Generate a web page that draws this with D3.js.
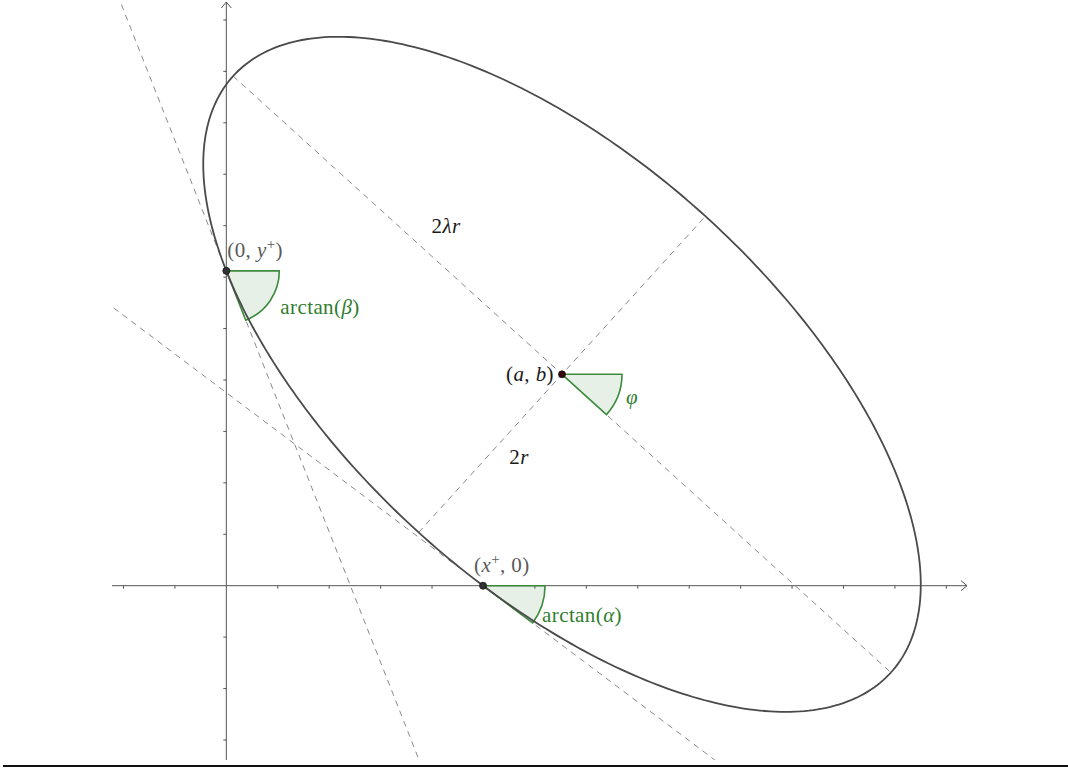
<!DOCTYPE html>
<html>
<head>
<meta charset="utf-8">
<script src="https://cdn.jsdelivr.net/npm/d3@7/dist/d3.min.js"></script>
<style>
  body { margin: 0; background: #fff; }
  text { font-family: "Liberation Serif", "DejaVu Serif", serif; }
</style>
</head>
<body>
<div id="chart"></div>
<script>
// View window in math units
const xDomain = [-2.223, 14.46];
const yDomain = [-3.389, 11.388];
const xTicks = [-2, -1, 1, 2, 3, 4, 5, 6, 7, 8, 9, 10, 11, 12, 13, 14];
const yTicks = [-3, -2, -1, 1, 2, 3, 4, 5, 6, 7, 8, 9, 10, 11];

// Ellipse: centre (a, b), semi-minor r, ratio lambda, tilt phi (degrees, clockwise)
const centre = [6.527, 4.11];
const r = 4.15;
const lambda = 2.08;
const phiDeg = 42.2;

(function () {
    const width = 1068;
    const height = 770;
    const view = { left: 112, right: 970, top: 0, bottom: 760 };

    const x = d3.scaleLinear().domain(xDomain).range([view.left, view.right]);
    const y = d3.scaleLinear().domain(yDomain).range([view.bottom, view.top]);

    const green = "#3d8b3d";
    const greenText = "#2f7d2f";

    const svg = d3.select("#chart")
        .append("svg")
        .attr("width", width)
        .attr("height", height)
        .attr("viewBox", [0, 0, width, height]);

    svg.append("defs").append("clipPath")
        .attr("id", "view")
        .append("rect")
        .attr("x", view.left)
        .attr("y", view.top)
        .attr("width", view.right - view.left)
        .attr("height", view.bottom - view.top);

    const g = svg.append("g").attr("clip-path", "url(#view)");

    // geometry of the ellipse
    const phi = phiDeg * Math.PI / 180;
    const A = lambda * r, B = r;
    const u = [Math.cos(phi), -Math.sin(phi)];   // major axis (down-right)
    const v = [Math.sin(phi), Math.cos(phi)];    // minor axis (up-right)
    const dot = (p, q) => p[0] * q[0] + p[1] * q[1];
    const at = (p, d, s) => [p[0] + d[0] * s, p[1] + d[1] * s];

    // smaller root of line p0 + s*d meeting the ellipse
    function meet(p0, d) {
        const w = [p0[0] - centre[0], p0[1] - centre[1]];
        const a1 = dot(d, u) / A, b1 = dot(w, u) / A;
        const a2 = dot(d, v) / B, b2 = dot(w, v) / B;
        const qa = a1 * a1 + a2 * a2;
        const qb = 2 * (a1 * b1 + a2 * b2);
        const qc = b1 * b1 + b2 * b2 - 1;
        const s = (-qb - Math.sqrt(qb * qb - 4 * qa * qc)) / (2 * qa);
        return at(p0, d, s);
    }

    // unit tangent (pointing right) at a point of the ellipse
    function tangent(p) {
        const w = [p[0] - centre[0], p[1] - centre[1]];
        const gu = dot(w, u) / (A * A), gv = dot(w, v) / (B * B);
        const gr = [gu * u[0] + gv * v[0], gu * u[1] + gv * v[1]];
        let t = [gr[1], -gr[0]];
        if (t[0] < 0) t = [-t[0], -t[1]];
        const n = Math.hypot(t[0], t[1]);
        return [t[0] / n, t[1] / n];
    }

    const xPlus = meet([0, 0], [1, 0]);
    const yPlus = meet([0, 0], [0, 1]);
    const tX = tangent(xPlus);
    const tY = tangent(yPlus);

    const px = p => [x(p[0]), y(p[1])];

    // axes
    const axisColor = "#555";
    const ox = x(0), oy = y(0);
    g.append("line")
        .attr("x1", view.left).attr("x2", 967)
        .attr("y1", oy).attr("y2", oy)
        .style("stroke", axisColor).style("stroke-width", 1);
    g.append("path")
        .attr("d", `M${961},${oy - 5}L${967},${oy}L${961},${oy + 5}`)
        .style("fill", "none").style("stroke", axisColor).style("stroke-width", 1);
    g.append("line")
        .attr("x1", ox).attr("x2", ox)
        .attr("y1", view.bottom).attr("y2", 2)
        .style("stroke", axisColor).style("stroke-width", 1);
    g.append("path")
        .attr("d", `M${ox - 5},${8}L${ox},${2}L${ox + 5},${8}`)
        .style("fill", "none").style("stroke", axisColor).style("stroke-width", 1);

    g.append("g").selectAll("line")
        .data(xTicks)
        .enter()
        .append("line")
        .attr("x1", d => x(d)).attr("x2", d => x(d))
        .attr("y1", oy).attr("y2", oy + 3)
        .style("stroke", axisColor);
    g.append("g").selectAll("line")
        .data(yTicks)
        .enter()
        .append("line")
        .attr("x1", ox - 3).attr("x2", ox)
        .attr("y1", d => y(d)).attr("y2", d => y(d))
        .style("stroke", axisColor);

    // dashed lines: tangents and axes of the ellipse
    const dashed = [
        [at(yPlus, tY, -40), at(yPlus, tY, 40)],
        [at(xPlus, tX, -40), at(xPlus, tX, 40)],
        [at(centre, u, -A), at(centre, u, A)],
        [at(centre, v, -B), at(centre, v, B)]
    ];
    g.append("g").selectAll("line")
        .data(dashed)
        .enter()
        .append("line")
        .attr("x1", d => x(d[0][0])).attr("y1", d => y(d[0][1]))
        .attr("x2", d => x(d[1][0])).attr("y2", d => y(d[1][1]))
        .style("stroke", "#8a8a8a")
        .style("stroke-width", 1)
        .style("stroke-dasharray", "6,5");

    // angle wedges (clockwise from horizontal)
    function wedge(p, dir, R) {
        const [cx, cy] = px(p);
        const ang = Math.atan2(-dir[1], dir[0]);   // positive = downward on screen
        return `M${cx},${cy}L${cx + R},${cy}A${R},${R} 0 0 1 ${cx + R * Math.cos(ang)},${cy + R * Math.sin(ang)}Z`;
    }
    const wedges = [
        { p: yPlus, dir: tY, R: 53 },
        { p: xPlus, dir: tX, R: 62 },
        { p: centre, dir: u, R: 60 }
    ];
    g.append("g").selectAll("path")
        .data(wedges)
        .enter()
        .append("path")
        .attr("d", d => wedge(d.p, d.dir, d.R))
        .style("fill", "rgba(61,139,61,0.13)")
        .style("stroke", green)
        .style("stroke-width", 1.6)
        .style("stroke-linejoin", "round");

    // ellipse
    const ts = d3.range(0, 361).map(k => k * Math.PI / 180);
    const ellipse = ts.map(t => [
        centre[0] + A * Math.cos(t) * u[0] + B * Math.sin(t) * v[0],
        centre[1] + A * Math.cos(t) * u[1] + B * Math.sin(t) * v[1]
    ]);
    g.append("path")
        .attr("d", d3.line().x(d => x(d[0])).y(d => y(d[1])).curve(d3.curveLinearClosed)(ellipse))
        .style("fill", "none")
        .style("stroke", "#4a4a4a")
        .style("stroke-width", 1.8);

    // points
    const points = [
        { p: yPlus, fill: "#333" },
        { p: xPlus, fill: "#333" },
        { p: centre, fill: "#3a0505" }
    ];
    g.append("g").selectAll("circle")
        .data(points)
        .enter()
        .append("circle")
        .attr("cx", d => x(d.p[0]))
        .attr("cy", d => y(d.p[1]))
        .attr("r", 3.5)
        .style("fill", d => d.fill)
        .style("stroke", "#111")
        .style("stroke-width", 0.8);

    // labels
    const fs = 21;
    function label(parts, pos, color) {
        const t = svg.append("text")
            .attr("x", pos[0]).attr("y", pos[1])
            .style("font-size", fs + "px")
            .style("fill", color)
            .style("letter-spacing", "0.4px");
        parts.forEach(s => {
            const ts = t.append("tspan").text(s.t);
            if (s.i) ts.style("font-style", "italic");
            if (s.sup) ts.attr("dy", -8).style("font-size", "15px");
            if (s.down) ts.attr("dy", 8);
        });
    }
    const [yx, yy] = px(yPlus);
    const [xx, xy] = px(xPlus);
    const [cx, cy] = px(centre);
    const vTop = px(at(centre, u, -A));
    const vLow = px(at(centre, v, -B));

    label([{ t: "(0, " }, { t: "y", i: true }, { t: "+", sup: true }, { t: ")", down: true }],
        [yx + 1, yy - 14], "#5a5a5a");
    label([{ t: "arctan(" }, { t: "β", i: true }, { t: ")" }], [yx + 54, yy + 43], greenText);
    label([{ t: "(" }, { t: "x", i: true }, { t: "+", sup: true }, { t: ", 0)", down: true }],
        [xx - 9, xy - 14], "#5a5a5a");
    label([{ t: "arctan(" }, { t: "α", i: true }, { t: ")" }], [xx + 59, xy + 36], greenText);
    label([{ t: "(" }, { t: "a", i: true }, { t: ", " }, { t: "b", i: true }, { t: ")" }],
        [cx - 56, cy + 7], "#1a1a1a");
    label([{ t: "φ", i: true }], [cx + 64, cy + 30], greenText);
    label([{ t: "2" }, { t: "λr", i: true }], [(cx + vTop[0]) / 2 + 34, (cy + vTop[1]) / 2 + 8], "#1a1a1a");
    label([{ t: "2" }, { t: "r", i: true }], [(cx + vLow[0]) / 2 + 19, (cy + vLow[1]) / 2 + 11], "#1a1a1a");

    // bottom frame line
    svg.append("line")
        .attr("x1", 3).attr("x2", width)
        .attr("y1", 766).attr("y2", 766)
        .style("stroke", "#111")
        .style("stroke-width", 2);
})();
</script>
</body>
</html>
